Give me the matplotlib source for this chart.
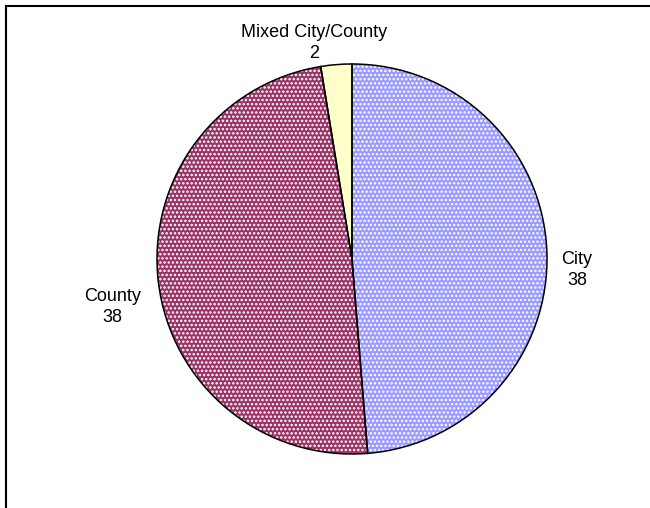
import matplotlib
matplotlib.use("Agg")
import matplotlib.pyplot as plt
from matplotlib.patches import Rectangle

# data
categories = ["City", "County", "Mixed City/County"]
values = [38, 38, 2]
base_colors = ["#9999FF", "#993366", "#FFFFCC"]
hatches = ["....", "....", ""]

# label positions in pie units (Excel "best fit" placement)
label_pos = [(1.154, -0.056), (-1.23, -0.246), (-0.195, 1.108)]

plt.rcParams["font.family"] = ["Liberation Sans", "DejaVu Sans"]
plt.rcParams["hatch.linewidth"] = 1.2

fig = plt.figure(figsize=(6.5, 5.08), dpi=100)
fig.patch.set_facecolor("white")

# outer chart border (runs off the right/bottom of the picture)
fig.patches.append(Rectangle((6 / 650, -0.1), 1.2, 1 - 6 / 508 + 0.1,
                             transform=fig.transFigure, fill=False,
                             edgecolor="black", linewidth=1.5))

ax = fig.add_axes([157 / 650, 54 / 508, 390 / 650, 390 / 508])

# filled + dotted layer
wedges, _ = ax.pie(values, colors=base_colors, startangle=90, counterclock=False,
                   radius=1.0, wedgeprops=dict(edgecolor="white", linewidth=0))
for w, h in zip(wedges, hatches):
    w.set_hatch(h)

# black outlines on top
ax.pie(values, colors=["none"] * len(values), startangle=90, counterclock=False,
       radius=1.0, wedgeprops=dict(edgecolor="black", linewidth=1.1))

for name, val, (x, y) in zip(categories, values, label_pos):
    ax.text(x, y, f"{name}\n{val}", ha="center", va="center", fontsize=13,
            linespacing=1.35, multialignment="center")

ax.set_xlim(-1, 1)
ax.set_ylim(-1, 1)
ax.set_aspect("equal")
ax.axis("off")

fig.savefig("out.png", dpi=100)
